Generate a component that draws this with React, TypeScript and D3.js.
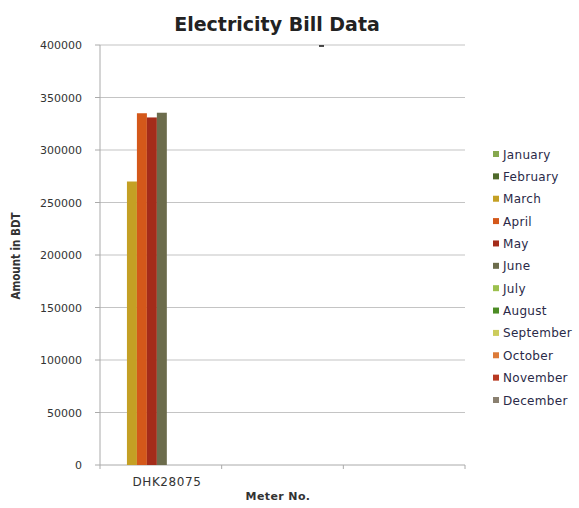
import React from "react";
import * as d3 from "d3";

const meters = ["DHK28075", "", " "];
const months = ["January", "February", "March", "April", "May", "June", "July", "August", "September", "October", "November", "December"];
const monthColors = ["#86a84e", "#4f6a2a", "#c4a024", "#d4581a", "#a42c1a", "#6c6c4c", "#9cc04e", "#4c8c24", "#cccc5c", "#dc7a38", "#b83a22", "#8a8070"];
// values per month for meter DHK28075 (null = no data)
const billValues: (number | null)[] = [null, null, 270000, 335000, 331000, 335500, null, null, null, null, null, null];
const yTicks = [0, 50000, 100000, 150000, 200000, 250000, 300000, 350000, 400000];

export default function App() {
  const W = 579, H = 508;
  const left = 100, right = 465, top = 45, bottom = 465;
  const y = d3.scaleLinear().domain([0, 400000]).range([bottom, top]);
  const x = d3.scaleBand<string>().domain(meters).range([left, right]).paddingInner(0).paddingOuter(0);
  const inner = d3.scaleBand<string>().domain(months).range([6, x.bandwidth() + 6]).paddingOuter(0.1).paddingInner(0);
  const legendY = d3.scalePoint<string>().domain(months).range([154, 400]);

  return (
    <svg width={W} height={H} style={{ position: "absolute", left: 0, top: 0, background: "#fff" }}>
      <rect x={0} y={0} width={W} height={H} fill="#fff" />
      <text x={277} y={31} textAnchor="middle" fontFamily="DejaVu Sans" fontWeight="bold" fontSize={19} fill="#222">Electricity Bill Data</text>
      {yTicks.map((t) => (
        <g key={t}>
          {t > 0 && <line x1={left} x2={right} y1={y(t)} y2={y(t)} stroke="#c4c4c4" strokeWidth={1.2} />}
          <line x1={left - 5} x2={left} y1={y(t)} y2={y(t)} stroke="#aaa" />
          <text x={82} y={y(t) + 4} textAnchor="end" fontFamily="DejaVu Sans" fontSize={11} fill="#333">{t}</text>
        </g>
      ))}
      <line x1={left} x2={left} y1={top} y2={bottom} stroke="#aaa" />
      <line x1={left} x2={right} y1={bottom} y2={bottom} stroke="#aaa" />
      {meters.map((m) => (
        <line key={"t" + m} x1={(x(m) as number) + x.bandwidth()} x2={(x(m) as number) + x.bandwidth()} y1={bottom} y2={bottom + 4} stroke="#aaa" />
      ))}
      <line x1={left} x2={left} y1={bottom} y2={bottom + 4} stroke="#aaa" />
      <line x1={319} x2={324} y1={46} y2={46} stroke="#111" strokeWidth={1.5} />
      {months.map((mo, i) => {
        const v = billValues[i];
        if (v == null) return null;
        const bx = (x(meters[0]) as number) + (inner(mo) as number);
        return <rect key={mo} x={bx} y={y(v)} width={inner.bandwidth()} height={bottom - y(v)} fill={monthColors[i]} />;
      })}
      <text x={167} y={486} textAnchor="middle" fontFamily="DejaVu Sans" fontSize={12} letterSpacing={0.6} fill="#333">{meters[0]}</text>
      <text x={278} y={500} textAnchor="middle" fontFamily="DejaVu Sans" fontWeight="bold" fontSize={11} letterSpacing={0.4} fill="#333">Meter No.</text>
      <text transform={`translate(20,256) rotate(-90)`} textAnchor="middle" fontFamily="DejaVu Sans Condensed" fontWeight="bold" fontSize={11.5} fill="#333">Amount in BDT</text>
      {months.map((mo, i) => (
        <g key={"l" + mo} transform={`translate(493,${legendY(mo)})`}>
          <rect x={0} y={-3} width={6} height={6} fill={monthColors[i]} />
          <text x={10} y={4.5} fontFamily="DejaVu Sans" fontSize={12} letterSpacing={0.3} fill="#2a2a48">{mo}</text>
        </g>
      ))}
    </svg>
  );
}
